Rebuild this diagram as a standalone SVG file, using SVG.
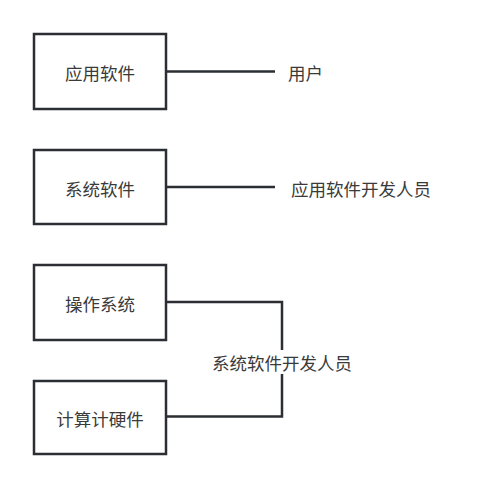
<svg xmlns="http://www.w3.org/2000/svg" width="483" height="490" viewBox="0 0 483 490">
<style>
.box{fill:#ffffff;stroke:#2b2f33;stroke-width:2.5}
.ln{fill:none;stroke:#2b2f33;stroke-width:2.5}
text{font-family:"Noto Sans CJK SC","Noto Sans",sans-serif;font-size:17.5px;fill:#3a3a3a;dominant-baseline:central}
.c{text-anchor:middle}
</style>
<rect width="483" height="490" fill="#ffffff"/>
<g id="connectors">
<line class="ln" x1="166" y1="71.5" x2="275" y2="71.5"/>
<line class="ln" x1="166" y1="187" x2="275" y2="187"/>
<polyline class="ln" points="166,302 282,302 282,416.5 166,416.5"/>
</g>
<g id="n1"><rect class="box" x="34" y="34" width="132" height="75"/><text class="c" x="100" y="72.5">应用软件</text></g>
<g id="n2"><rect class="box" x="34" y="150" width="132" height="74"/><text class="c" x="100" y="188">系统软件</text></g>
<g id="n3"><rect class="box" x="34" y="265" width="132" height="75"/><text class="c" x="100" y="303">操作系统</text></g>
<g id="n4"><rect class="box" x="34" y="381" width="132" height="73"/><text class="c" x="100" y="418">计算计硬件</text></g>
<g id="l1"><text x="288" y="72.5">用户</text></g>
<g id="l2"><text x="291" y="188">应用软件开发人员</text></g>
<g id="l3"><rect x="209" y="350" width="146" height="24" fill="#ffffff"/><text class="c" x="282" y="362">系统软件开发人员</text></g>
</svg>
